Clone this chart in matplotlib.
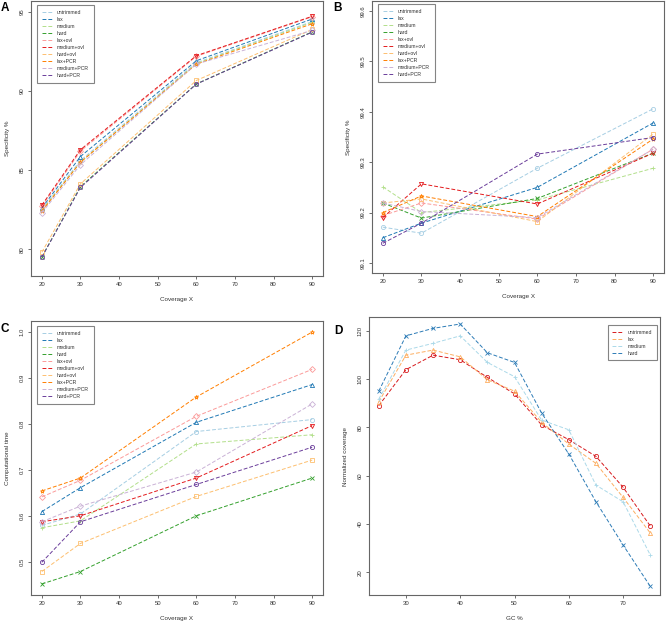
import numpy as np
import matplotlib
matplotlib.use('Agg')
import matplotlib.pyplot as plt

plt.rcParams['font.family'] = ['Liberation Sans', 'DejaVu Sans']

# Данные
coverage = [20, 30, 60, 90]
series_names = ['untrimmed', 'lax', 'medium', 'hard', 'lax+ovl', 'medium+ovl',
                'hard+ovl', 'lax+PCR', 'medium+PCR', 'hard+PCR']

# A: специфичность
spec_a = {
    'untrimmed':  [82.50, 85.60, 91.80, 94.40],
    'lax':        [82.60, 85.86, 91.92, 94.56],
    'medium':     [82.45, 85.50, 91.75, 94.35],
    'hard':       [79.50, 83.95, 90.45, 93.75],
    'lax+ovl':    [82.70, 86.20, 92.20, 94.70],
    'medium+ovl': [82.78, 86.29, 92.24, 94.73],
    'hard+ovl':   [79.80, 84.13, 90.67, 93.90],
    'lax+PCR':    [82.40, 85.50, 91.70, 94.26],
    'medium+PCR': [82.30, 85.34, 91.71, 93.84],
    'hard+PCR':   [79.49, 83.90, 90.44, 93.73],
}

# B: специфичность (увеличенно)
spec_b = {
    'untrimmed':  [99.171, 99.159, 99.288, 99.406],
    'lax':        [99.150, 99.179, 99.250, 99.378],
    'medium':     [99.251, 99.200, 99.225, 99.288],
    'hard':       [99.219, 99.189, 99.228, 99.318],
    'lax+ovl':    [99.194, 99.219, 99.187, 99.326],
    'medium+ovl': [99.190, 99.257, 99.217, 99.318],
    'hard+ovl':   [99.219, 99.227, 99.182, 99.356],
    'lax+PCR':    [99.200, 99.233, 99.192, 99.346],
    'medium+PCR': [99.219, 99.202, 99.190, 99.326],
    'hard+PCR':   [99.139, 99.179, 99.316, 99.349],
}

# C: время вычислений
comp_time = {
    'untrimmed':  [0.580, 0.605, 0.784, 0.810],
    'lax':        [0.610, 0.662, 0.804, 0.886],
    'medium':     [0.575, 0.590, 0.757, 0.777],
    'hard':       [0.453, 0.480, 0.601, 0.683],
    'lax+ovl':    [0.642, 0.678, 0.817, 0.919],
    'medium+ovl': [0.588, 0.601, 0.683, 0.797],
    'hard+ovl':   [0.480, 0.541, 0.643, 0.722],
    'lax+PCR':    [0.655, 0.683, 0.859, 1.000],
    'medium+PCR': [0.588, 0.622, 0.696, 0.844],
    'hard+PCR':   [0.500, 0.588, 0.669, 0.750],
}

# D: нормализованное покрытие по GC
gc = [25, 30, 35, 40, 45, 50, 55, 60, 65, 70, 75]
gc_names = ['untrimmed', 'lax', 'medium', 'hard']
norm_cov = {
    'untrimmed': [89.0, 103.9, 109.9, 108.0, 100.7, 93.9, 81.0, 74.9, 68.0, 55.2, 39.2],
    'lax':       [90.6, 109.9, 112.0, 109.2, 99.7, 95.0, 82.1, 73.1, 65.1, 51.0, 36.3],
    'medium':    [91.7, 112.0, 114.8, 117.9, 106.9, 101.0, 83.0, 79.0, 56.1, 49.2, 27.2],
    'hard':      [95.0, 117.9, 121.0, 122.8, 110.9, 106.9, 85.9, 69.0, 49.2, 31.3, 14.2],
}

paired = ['#A6CEE3', '#1F78B4', '#B2DF8A', '#33A02C', '#FB9A99',
          '#E31A1C', '#FDBF6F', '#FF7F00', '#CAB2D6', '#6A3D9A']
markers = ['o', '^', '+', 'x', 'D', 'v', 's', '*', 'D', 'o']
rdylbu = ['#D7191C', '#FDAE61', '#ABD9E9', '#2C7BB6']

W, H = 666, 624
fig = plt.figure(figsize=(W / 100, H / 100), dpi=100)


def rect(l, r, t, b):
    return [l / W, 1 - b / H, (r - l) / W, (b - t) / H]


def style(ax, xlabel, ylabel):
    for s in ax.spines.values():
        s.set_color('#666666')
        s.set_linewidth(0.8)
    ax.tick_params(labelsize=4.3, length=2.5, width=0.5, pad=2,
                   colors='#333333')
    for lab in ax.get_yticklabels():
        lab.set_rotation(90)
        lab.set_va('center')
    ax.set_xlabel(xlabel, fontsize=4.5, labelpad=7, color='#333333')
    ax.set_ylabel(ylabel, fontsize=4.5, labelpad=7, color='#333333')


def line_panel(ax, data, names, colors, mks, x):
    for name, c, m in zip(names, colors, mks):
        ax.plot(x, data[name], color=c, linestyle=(0, (4, 2)), linewidth=0.7,
                marker=m, markersize=3, markerfacecolor='none',
                markeredgewidth=0.6, label=name)


def legend(ax, loc, anchor):
    leg = ax.legend(loc=loc, bbox_to_anchor=anchor, borderaxespad=0,
                    fontsize=3.7, labelspacing=0.4, handlelength=2.0,
                    handletextpad=1.0, borderpad=0.9, fancybox=False)
    leg.get_frame().set_edgecolor('#666666')
    leg.get_frame().set_linewidth(0.8)
    for h in leg.legend_handles:
        h.set_marker('')
    for t in leg.get_texts():
        t.set_color('#333333')


# A
ax1 = fig.add_axes(rect(31, 323, 1, 276))
line_panel(ax1, spec_a, series_names, paired, markers, coverage)
ax1.set_xlim(17.2, 92.8)
ax1.set_ylim(78.3, 95.7)
ax1.set_yticks([80, 85, 90, 95])
ax1.set_xticks([20, 30, 40, 50, 60, 70, 80, 90])
style(ax1, 'Coverage X', 'Specificity %')
legend(ax1, 'upper left', (6 / 292, 1 - 4 / 275))

# B
ax2 = fig.add_axes(rect(372, 664, 1, 273))
line_panel(ax2, spec_b, series_names, paired, markers, coverage)
ax2.set_xlim(17.2, 92.8)
ax2.set_ylim(99.08, 99.62)
ax2.set_yticks([99.1, 99.2, 99.3, 99.4, 99.5, 99.6])
ax2.set_xticks([20, 30, 40, 50, 60, 70, 80, 90])
style(ax2, 'Coverage X', 'Specificity %')
legend(ax2, 'upper left', (6 / 292, 1 - 3 / 272))

# C
ax3 = fig.add_axes(rect(31, 323, 321, 595))
line_panel(ax3, comp_time, series_names, paired, markers, coverage)
ax3.set_xlim(17.2, 92.8)
ax3.set_ylim(0.429, 1.024)
ax3.set_yticks([0.5, 0.6, 0.7, 0.8, 0.9, 1.0])
ax3.set_xticks([20, 30, 40, 50, 60, 70, 80, 90])
style(ax3, 'Coverage X', 'Computational time')
legend(ax3, 'upper left', (6 / 292, 1 - 5 / 274))

# D
ax4 = fig.add_axes(rect(369, 660, 317, 595))
line_panel(ax4, norm_cov, gc_names, rdylbu, ['o', '^', '+', 'x'], gc)
ax4.set_xlim(23.2, 76.8)
ax4.set_ylim(10.6, 125.7)
ax4.set_yticks([20, 40, 60, 80, 100, 120])
ax4.set_xticks([30, 40, 50, 60, 70])
style(ax4, 'GC %', 'Normalized coverage')
legend(ax4, 'upper right', (1 - 3 / 291, 1 - 8 / 278))

# Буквы панелей
for lbl, x, y in [('A', 5, 8), ('B', 338, 8), ('C', 5, 329), ('D', 338, 331)]:
    fig.text(x / W, 1 - y / H, lbl, fontsize=8.5, fontweight='bold',
             ha='center', va='center', family=['Liberation Sans', 'DejaVu Sans'])

plt.savefig('out.png', dpi=100)
